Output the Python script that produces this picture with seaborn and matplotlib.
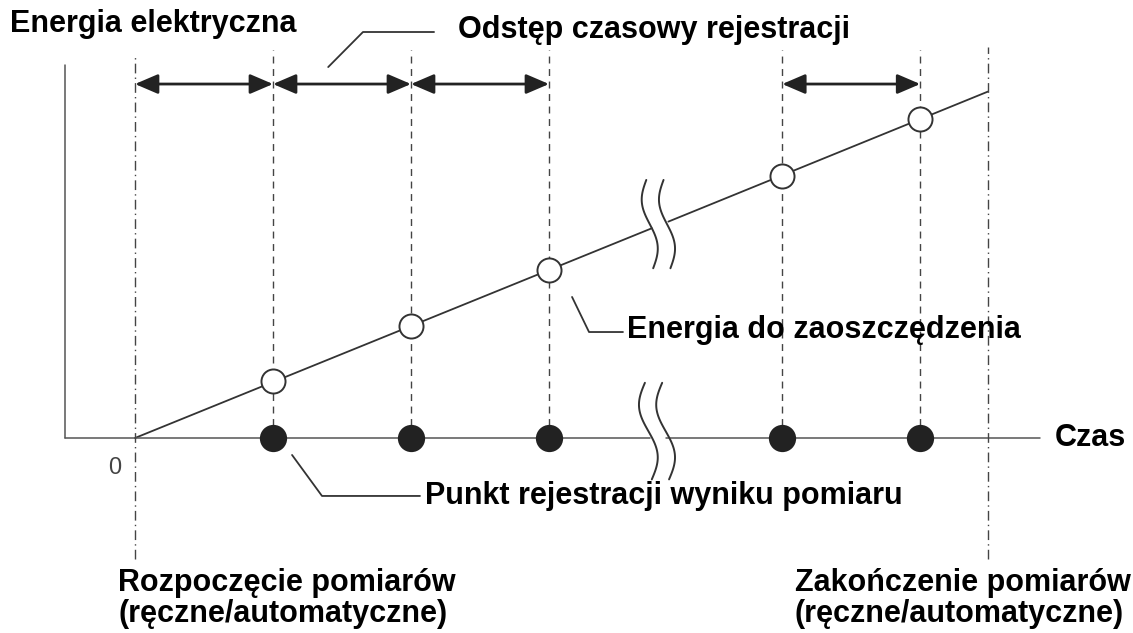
import numpy as np
import pandas as pd
import matplotlib
matplotlib.use("Agg")
import matplotlib.pyplot as plt
import seaborn as sns

# dane: chwile rejestracji (w odstepach rejestracji) i energia do zaoszczedzenia
czas_rejestracji = [1.0, 2.0, 3.0, 4.69, 5.69]
energia_rejestracji = [0.41, 0.81, 1.22, 1.90, 2.31]
czas_start = 0.0
czas_koniec = 6.18
energia_koniec = 2.51

os_y_tekst = "Energia elektryczna"
os_x_tekst = "Czas"
opis_odstep = "Odstęp czasowy rejestracji"
opis_energia = "Energia do zaoszczędzenia"
opis_punkt = "Punkt rejestracji wyniku pomiaru"
opis_start = "Rozpoczęcie pomiarów\n(ręczne/automatyczne)"
opis_koniec = "Zakończenie pomiarów\n(ręczne/automatyczne)"

df = pd.DataFrame({"czas": czas_rejestracji, "energia": energia_rejestracji})

sns.set_theme(style="white")
plt.rcParams["font.family"] = ["Liberation Sans", "DejaVu Sans"]

fig = plt.figure(figsize=(11.33, 6.33), dpi=100)
ax = fig.add_axes([0, 0, 1, 1])
ax.set_xlim(-135 / 138, (1133 - 135) / 138)
ax.set_ylim(-195 / 138, 438 / 138)
ax.axis("off")

kolor = "#333333"
lw = 1.3

# linia energii z przerwa
xs = [czas_start] + czas_rejestracji + [czas_koniec]
ys = [0.0] + energia_rejestracji + [energia_koniec]
przerwa_g = (3.745, 3.865)
for a, b in [(czas_start, przerwa_g[0]), (przerwa_g[1], czas_koniec)]:
    ax.plot([a, b], np.interp([a, b], xs, ys), color=kolor, lw=lw, zorder=2)

# osie
x_osi = -0.507
ax.plot([x_osi, x_osi], [0, 2.70], color="#555555", lw=1.1)
przerwa_d = (3.73, 3.85)
ax.plot([x_osi, przerwa_d[0]], [0, 0], color="#555555", lw=1.1)
ax.plot([przerwa_d[1], 6.56], [0, 0], color="#555555", lw=1.1)


def znak_przerwy(xc, yc, h, amp):
    s = np.linspace(0, 1, 80)
    y = yc + h / 2 - h * s
    for dx in (0, 0.125):
        x = xc + dx - amp * np.sin(2 * np.pi * s) + 0.05 * (s - 0.5)
        ax.plot(x, y, color=kolor, lw=1.4, zorder=3)


znak_przerwy(3.73, 1.55, 0.64, 0.045)
znak_przerwy(3.72, 0.05, 0.70, 0.055)

# linie pionowe
ax.plot([czas_start, czas_start], [-0.88, 2.78], color="#444444", lw=1.0,
        linestyle=(0, (7, 3, 1, 3)))
ax.plot([czas_koniec, czas_koniec], [-0.88, 2.83], color="#444444", lw=1.0,
        linestyle=(0, (7, 3, 1, 3)))
for t in czas_rejestracji:
    ax.plot([t, t], [0, 2.81], color="#444444", lw=1.0,
            linestyle=(0, (5, 4)), zorder=1)

# strzalki odstepow
poczatki = [czas_start] + czas_rejestracji[:2] + [czas_rejestracji[3]]
konce = czas_rejestracji[:3] + [czas_rejestracji[4]]
for a, b in zip(poczatki, konce):
    ax.annotate("", xy=(b, 2.565), xytext=(a, 2.565),
                arrowprops=dict(arrowstyle="<|-|>,head_length=0.7,head_width=0.3",
                                mutation_scale=20, color="#222222", lw=2,
                                shrinkA=0, shrinkB=0))

# punkty
sns.scatterplot(data=df, x="czas", y="energia", s=300, color="white",
                edgecolor=kolor, linewidth=1.4, zorder=4, ax=ax, legend=False)
sns.scatterplot(x=czas_rejestracji, y=[0.0] * len(czas_rejestracji), s=330,
                color="#222222", edgecolor="#222222", zorder=4, ax=ax,
                legend=False)
ax.set_xlabel("")
ax.set_ylabel("")

# linie odniesienia
for px, py in [([1.40, 1.652, 2.167], [2.688, 2.942, 2.942]),
               ([3.167, 3.290, 3.536], [1.022, 0.768, 0.768]),
               ([1.138, 1.355, 2.065], [-0.123, -0.420, -0.420])]:
    ax.plot(px, py, color=kolor, lw=1.3)

# teksty
tk = dict(fontsize=22, fontweight="bold", color="black", va="center", ha="left")
ax.text(-0.906, 3.0, os_y_tekst, **tk)
ax.text(2.34, 2.957, opis_odstep, **tk)
ax.text(3.565, 0.783, opis_energia, **tk)
ax.text(2.10, -0.42, opis_punkt, **tk)
ax.text(6.667, 0.0, os_x_tekst, **tk)
ax.text(-0.123, -1.16, opis_start, linespacing=1.05, **tk)
ax.text(4.78, -1.16, opis_koniec, linespacing=1.05, **tk)
ax.text(-0.145, -0.217, "0", fontsize=17, color="#444444", va="center",
        ha="center")

fig.savefig("out.png", dpi=100)
